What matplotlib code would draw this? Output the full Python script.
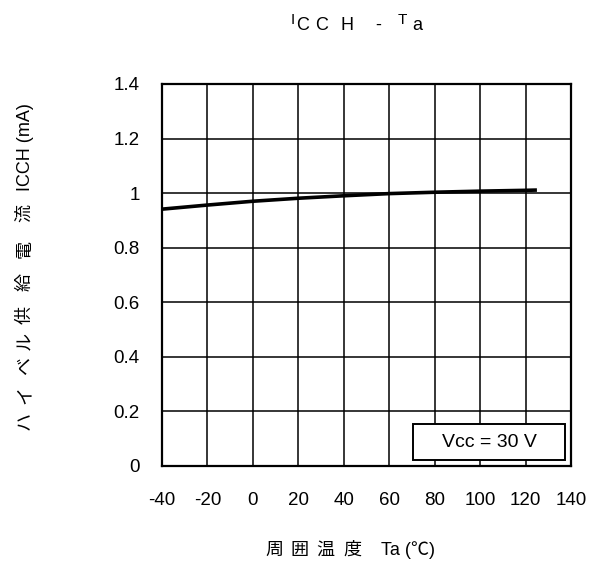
import matplotlib.pyplot as plt
from matplotlib.patches import Rectangle

plt.rcParams["font.family"] = ["Liberation Sans", "Noto Sans CJK JP", "DejaVu Sans"]
plt.rcParams["axes.unicode_minus"] = False

# data
temps = [-40, -20, 0, 20, 40, 60, 80, 100, 120, 125]
icch = [0.941, 0.956, 0.970, 0.981, 0.990, 0.998, 1.003, 1.007, 1.010, 1.011]
xticks = [-40, -20, 0, 20, 40, 60, 80, 100, 120, 140]
yticks = [0, 0.2, 0.4, 0.6, 0.8, 1.0, 1.2, 1.4]
ytick_labels = ["0", "0.2", "0.4", "0.6", "0.8", "1", "1.2", "1.4"]

W, H = 600, 569
fig = plt.figure(figsize=(W / 100, H / 100), dpi=100)
ax = fig.add_axes([162 / W, 1 - 465.7 / H, 409 / W, 381.7 / H])

ax.plot(temps, icch, color="black", linewidth=2.6, solid_capstyle="butt", zorder=3)

ax.set_xlim(-40, 140)
ax.set_ylim(0, 1.4)
ax.set_xticks(xticks)
ax.set_yticks(yticks)
ax.set_yticklabels(ytick_labels)
ax.grid(True, color="black", linewidth=1.1)
ax.tick_params(length=0, labelsize=13.5)
ax.tick_params(axis="x", pad=19)
ax.tick_params(axis="y", pad=16)
for s in ax.spines.values():
    s.set_linewidth(1.6)

# condition box
ax.add_patch(Rectangle((0.614, 0.015), 0.372, 0.094, transform=ax.transAxes,
                       facecolor="white", edgecolor="black", linewidth=1.4, zorder=4))
ax.text(0.80, 0.062, "Vcc = 30 V", transform=ax.transAxes, ha="center", va="center",
        fontsize=14, zorder=5)


def ftext(x, y, s, size, **kw):
    # place text by pixel position in the figure
    fig.text(x / W, 1 - y / H, s, fontsize=size, **kw)


# title: I_CCH - T_a, letter-spaced
ftext(291, 24, "I", 11, va="baseline")
ftext(296, 30, "C", 13, va="baseline")
ftext(315, 30, "C", 13, va="baseline")
ftext(340, 30, "H", 13, va="baseline")
ftext(375, 30, "-", 13, va="baseline")
ftext(398, 24, "T", 11, va="baseline")
ftext(412, 30, "a", 13, va="baseline")

# y label, rotated
ftext(25, 147, "ICCH (mA)", 13, rotation=90, ha="center", va="center")
for ch, yc in zip("流電給供ルベイハ", [213, 249, 282, 315, 341, 366, 395, 421]):
    ftext(25, yc, ch, 13, rotation=90, ha="center", va="center")

# x label
for ch, xc in zip("周囲温度", [274, 299, 325, 352]):
    ftext(xc, 550, ch, 13, ha="center", va="center")
ftext(381, 550, "Ta (℃)", 13, ha="left", va="center")

fig.savefig("out.png", dpi=100)
